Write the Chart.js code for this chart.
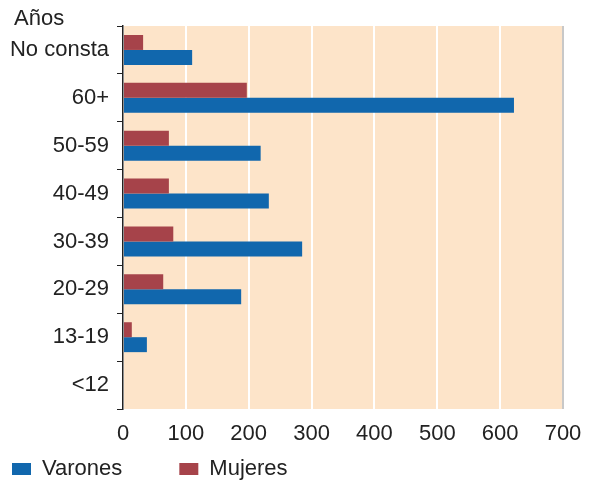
<!DOCTYPE html>
<html>
<head>
<meta charset="utf-8">
<script src="https://cdn.jsdelivr.net/npm/chart.js@4"></script>
<style>
  html, body { margin: 0; padding: 0; background: #fff; overflow: hidden; }
  canvas { display: block; }
</style>
</head>
<body>
<canvas id="grafico" width="589" height="480"></canvas>
<script>
var edades = ['No consta', '60+', '50-59', '40-49', '30-39', '20-29', '13-19', '<12'];
var varones = [110, 622, 219, 232, 285, 188, 38, 0];
var mujeres = [32, 197, 73, 73, 80, 64, 14, 0];
var ticksX = [0, 100, 200, 300, 400, 500, 600, 700];
var tituloEje = 'Años';

var fuente = "'Liberation Sans', Arial, sans-serif";

// fondo del area de trazado, rotulo "Años" y leyenda un poco mas abajo
var fondo = {
  id: 'fondo',
  afterLayout: function(chart) {
    chart.legend.top += 10;
    chart.legend.bottom += 10;
  },
  beforeDraw: function(chart) {
    var a = chart.chartArea, ctx = chart.ctx;
    ctx.save();
    ctx.fillStyle = '#fde4c9';
    ctx.fillRect(a.left, a.top, a.right - a.left, a.bottom - a.top);
    ctx.restore();
  },
  afterDraw: function(chart) {
    var ctx = chart.ctx;
    ctx.save();
    ctx.fillStyle = '#222';
    ctx.font = '22px ' + fuente;
    ctx.textBaseline = 'alphabetic';
    ctx.textAlign = 'left';
    ctx.fillText(tituloEje, 14, 25);
    ctx.restore();
  }
};

new Chart(document.getElementById('grafico'), {
  type: 'bar',
  data: {
    labels: edades,
    datasets: [{
      label: 'Mujeres',
      backgroundColor: '#a6434a',
      data: mujeres,
      barPercentage: 1,
      categoryPercentage: 0.625
    }, {
      label: 'Varones',
      backgroundColor: '#1167ad',
      data: varones,
      barPercentage: 1,
      categoryPercentage: 0.625
    }]
  },
  options: {
    indexAxis: 'y',
    responsive: false,
    animation: false,
    layout: { autoPadding: false, padding: { left: 10, right: 26, top: 26, bottom: 0 } },
    scales: {
      x: {
        min: 0,
        max: 700,
        afterBuildTicks: function(axis) {
          axis.ticks = ticksX.map(function(v) { return { value: v }; });
        },
        afterFit: function(axis) {
          axis.height = 37;
          axis.paddingLeft = 0;
          axis.paddingRight = 0;
        },
        grid: {
          color: function(c) { return c.tick && c.tick.value === 700 ? '#c8c8c8' : '#ffffff'; },
          lineWidth: 2,
          drawTicks: false
        },
        border: { display: false },
        ticks: { color: '#222', font: { family: fuente, size: 22 }, padding: 12 }
      },
      y: {
        afterFit: function(axis) { axis.width = 113; },
        grid: {
          offset: true,
          drawOnChartArea: false,
          drawTicks: true,
          tickLength: 6,
          color: '#222'
        },
        border: { display: true, color: '#222', width: 1.5 },
        ticks: { color: '#222', font: { family: fuente, size: 22 }, padding: 8 }
      }
    },
    plugins: {
      legend: {
        position: 'bottom',
        align: 'start',
        labels: {
          boxWidth: 19,
          boxHeight: 12,
          padding: 2,
          color: '#222',
          font: { family: fuente, size: 22 },
          sort: function(a, b) { return b.datasetIndex - a.datasetIndex; },
          generateLabels: function(chart) {
            var items = Chart.defaults.plugins.legend.labels.generateLabels(chart);
            items.forEach(function(it) { it.text = it.text + '         '; it.lineWidth = 0; });
            return items;
          }
        }
      },
      tooltip: { enabled: false }
    }
  },
  plugins: [fondo]
});
</script>
</body>
</html>
